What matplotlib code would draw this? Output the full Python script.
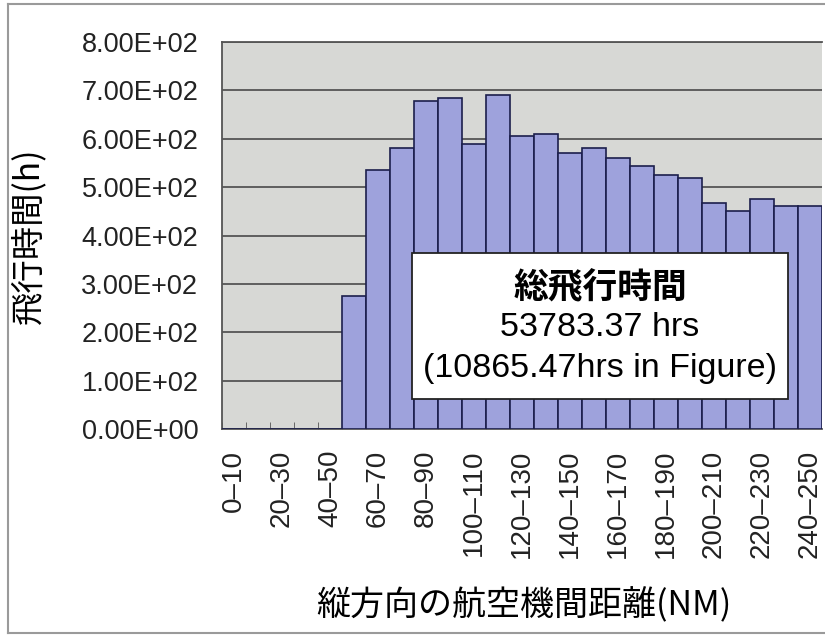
import matplotlib.pyplot as plt
from matplotlib.lines import Line2D

plt.rcParams["font.family"] = ["Liberation Sans", "Noto Sans CJK JP", "DejaVu Sans"]

BINS = [f"{lo}\u2013{lo + 10}" for lo in range(0, 250, 10)]
HOURS = [0, 0, 0, 0, 0, 275, 535, 580, 678, 685, 590, 690, 605, 610, 570,
         580, 560, 543, 525, 518, 468, 450, 476, 460, 462]
LABEL_BINS = BINS[::2]

YTICKS = [0, 100, 200, 300, 400, 500, 600, 700, 800]
YTICK_LABELS = ["0.00E+00", "1.00E+02", "2.00E+02", "3.00E+02", "4.00E+02",
                "5.00E+02", "6.00E+02", "7.00E+02", "8.00E+02"]

BOX_TITLE = "総飛行時間"
BOX_LINES = ["53783.37 hrs", "(10865.47hrs in Figure)"]


def main():
    fig = plt.figure(figsize=(8.25, 6.36), dpi=100)
    ax = fig.add_axes([222 / 825, 1 - 429 / 636, 600 / 825, 387 / 636])
    ax.set_facecolor("#d7d8d5")

    x = list(range(len(BINS)))
    ax.bar(x, HOURS, width=1.0, color="#9ea2dc", edgecolor="#1c1f4c",
           linewidth=1.2, zorder=3)

    ax.set_xlim(-0.5, len(BINS) - 0.5)
    ax.set_ylim(0, 800)
    ax.set_yticks(YTICKS)
    ax.set_yticklabels(YTICK_LABELS)
    ax.yaxis.grid(True, color="#555555", linewidth=1.3, zorder=1)
    ax.tick_params(axis="y", length=0, labelsize=19.5, pad=17, colors="#222222")

    ax.set_xticks(x[::2])
    ax.set_xticklabels(LABEL_BINS, rotation=90)
    ax.tick_params(axis="x", length=0, labelsize=20, pad=15, colors="#222222")
    ax.set_xticks([i - 0.5 for i in x], minor=True)
    ax.tick_params(axis="x", which="minor", direction="in", length=5,
                   color="#555555")

    for side in ["top", "left", "bottom"]:
        ax.spines[side].set_color("#555555")
        ax.spines[side].set_linewidth(1.3)
    ax.spines["right"].set_visible(False)

    ax.set_ylabel("飛行時間(h)", fontsize=24, family=["Noto Sans CJK JP", "DejaVu Sans"])
    ax.yaxis.set_label_coords(-(222 - 46) / 600, 0.5)
    fig.text(524 / 825, 1 - 605 / 636, "縦方向の航空機間距離(NM)", fontsize=24.5,
             ha="center", va="center", family=["Noto Sans CJK JP", "DejaVu Sans"])

    # text box
    bx0, bx1, by0, by1 = 412, 788, 253, 399
    ax.add_patch(plt.Rectangle((bx0 / 825, 1 - by1 / 636), (bx1 - bx0) / 825,
                               (by1 - by0) / 636, transform=fig.transFigure,
                               facecolor="white", edgecolor="#222222",
                               linewidth=1.3, zorder=5))
    cx = 600 / 825
    fig.text(cx, 1 - 288 / 636, BOX_TITLE, fontsize=25, fontweight="bold",
             ha="center", va="center", zorder=6,
             family=["Noto Sans CJK JP", "DejaVu Sans"])
    fig.text(cx, 1 - 328 / 636, BOX_LINES[0], fontsize=24.5, ha="center",
             va="center", zorder=6)
    fig.text(cx, 1 - 368 / 636, BOX_LINES[1], fontsize=24.5, ha="center",
             va="center", zorder=6)

    # outer frame
    frame = dict(color="#9a9a9a", linewidth=1.5, transform=fig.transFigure)
    fig.add_artist(Line2D([8 / 825, 1], [1 - 4 / 636, 1 - 4 / 636], **frame))
    fig.add_artist(Line2D([8 / 825, 8 / 825], [1 - 4 / 636, 1 - 633 / 636], **frame))
    fig.add_artist(Line2D([8 / 825, 1], [1 - 633 / 636, 1 - 633 / 636], **frame))

    fig.savefig("out.png", dpi=100)


if __name__ == "__main__":
    main()
